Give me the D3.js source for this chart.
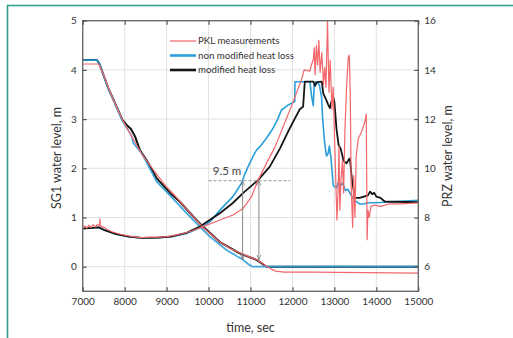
<!DOCTYPE html>
<html><head><meta charset="utf-8">
<script src="https://cdn.jsdelivr.net/npm/d3@7"></script>
<style>
html,body{margin:0;padding:0;background:#fff;}
svg{display:block;font-family:Lato,"Open Sans",sans-serif;}
</style></head>
<body>
<svg id="c" width="513" height="338"></svg>
<script>
// ---- data ----
const xTicks = [7000,8000,9000,10000,11000,12000,13000,14000,15000];
const leftTicks = [0,1,2,3,4,5];
const rightTicks = [6,8,10,12,14,16];
const seriesNames = ["PKL measurements","non modified heat loss","modified heat loss"];

// SG1 water level (left axis, m)  [time, level]
const sg1PKL = [[7000,4.12],[7380,4.12],[7500,3.9],[7700,3.45],[7950,2.98],[8200,2.6],[8400,2.3],[8700,1.95],[9000,1.62],[9300,1.35],[9600,1.05],[9870,0.8],[10000,0.7],[10270,0.5],[10500,0.38],[10750,0.28],[11000,0.19],[11150,0.14],[11300,0.06],[11400,0.0],[11500,-0.05],[11600,-0.09],[11800,-0.11],[12500,-0.11],[15000,-0.13]];
const sg1NonMod = [[7000,4.2],[7340,4.2],[7400,4.12],[7600,3.65],[7936,2.98],[8100,2.75],[8174,2.64],[8200,2.52],[8412,2.3],[8762,1.73],[9079,1.45],[9476,1.09],[9793,0.81],[10031,0.61],[10428,0.34],[10700,0.2],[10824,0.14],[10950,0.05],[11050,0.0],[15000,0.0]];
const sg1Mod = [[7000,4.2],[7340,4.2],[7400,4.12],[7600,3.65],[7950,2.98],[8050,2.88],[8100,2.84],[8150,2.8],[8252,2.64],[8364,2.37],[8571,2.1],[8762,1.8],[9079,1.5],[9317,1.32],[9633,1.02],[9871,0.81],[10270,0.5],[10745,0.27],[11143,0.14],[11300,0.05],[11380,0.0],[15000,0.0]];

// PRZ water level (right axis, m)  [time, level]
const przPKL = [[7000,7.55],[7050,7.66],[7100,7.57],[7150,7.69],[7200,7.6],[7250,7.71],[7300,7.62],[7350,7.72],[7400,7.65],[7410,7.95],[7420,7.66],[7500,7.6],[7600,7.5],[7700,7.42],[7800,7.37],[7900,7.32],[8000,7.28],[8200,7.22],[8400,7.18],[8600,7.2],[8800,7.2],[9000,7.22],[9200,7.28],[9400,7.35],[9600,7.45],[9870,7.63],[10269,7.9],[10580,8.1],[10824,8.37],[11024,8.85],[11181,9.52],[11380,10.2],[11580,10.85],[11780,11.7],[12016,12.7],[12215,13.6],[12280,14.0],[12415,13.95],[12450,14.2],[12496,14.4],[12520,14.9],[12540,13.8],[12570,15.0],[12600,14.2],[12630,15.2],[12660,13.9],[12700,14.7],[12740,13.4],[12770,14.1],[12800,13.3],[12836,16.0],[12870,13.1],[12900,14.4],[12940,12.4],[12970,13.3],[13010,10.9],[13060,7.9],[13090,9.2],[13110,10.9],[13130,8.3],[13160,9.6],[13190,10.3],[13220,9.0],[13250,11.5],[13290,13.3],[13330,14.5],[13355,14.6],[13380,12.8],[13400,9.3],[13435,7.6],[13460,9.7],[13490,8.0],[13520,10.5],[13570,11.2],[13650,11.5],[13730,11.9],[13760,12.2],[13780,7.1],[13800,8.3],[13830,8.0],[13870,8.45],[13950,8.5],[14100,8.45],[14300,8.55],[14600,8.55],[15000,8.6]];
const przNonMod = [[7000,7.55],[7380,7.6],[7500,7.5],[7800,7.32],[8100,7.22],[8400,7.17],[8800,7.18],[9100,7.22],[9476,7.35],[9870,7.63],[10050,7.85],[10270,8.3],[10580,8.85],[10786,9.39],[10850,9.7],[10943,10.07],[11050,10.45],[11143,10.74],[11224,10.88],[11380,11.22],[11538,11.63],[11650,12.0],[11738,12.37],[11895,12.57],[12055,12.71],[12060,13.52],[12417,13.52],[12450,13.0],[12496,12.55],[12520,13.4],[12560,13.52],[12640,13.4],[12694,12.9],[12720,12.0],[12770,11.0],[12810,10.5],[12850,10.6],[12880,10.9],[12920,10.4],[12972,9.3],[13050,9.2],[13100,9.45],[13150,9.3],[13200,9.4],[13260,9.1],[13320,9.15],[13400,8.9],[13480,8.7],[13600,8.55],[13700,8.55],[13800,8.6],[14000,8.6],[14500,8.65],[15000,8.7]];
const przMod = [[7000,7.55],[7380,7.6],[7500,7.5],[7800,7.32],[8100,7.22],[8400,7.17],[8800,7.18],[9100,7.22],[9476,7.38],[9793,7.63],[10269,8.17],[10580,8.59],[10820,8.99],[11180,9.52],[11460,10.07],[11700,10.8],[11900,11.5],[12050,12.0],[12175,12.4],[12254,12.5],[12294,13.52],[12500,13.52],[12540,13.35],[12580,13.5],[12700,13.52],[12734,13.05],[12813,12.75],[12850,12.6],[12893,12.45],[12935,12.75],[12972,12.9],[13000,12.7],[13050,11.6],[13100,10.95],[13150,10.8],[13220,10.3],[13290,10.2],[13340,10.35],[13370,10.4],[13420,9.5],[13490,8.8],[13600,8.8],[13700,8.85],[13800,8.9],[13850,9.05],[13900,8.95],[13950,9.0],[14000,8.85],[14100,8.8],[14200,8.65],[15000,8.62]];

const refLevel = 9.5;            // PRZ level of dashed line
const refSpan = [10000,11950];
const arrowTimes = [10812,11200];
const arrowBottomSG1 = [0.14,0.14];

// ---- chart ----
const svg = d3.select("#c");
const L=82.7,R=418.3,T=20.7,B=291.3;
const x = d3.scaleLinear([7000,15000],[L,R]);
const yL = d3.scaleLinear([-0.5,5],[B,T]);
const yR = d3.scaleLinear([5,16],[B,T]);

// outer teal frame
svg.append("path").attr("d","M7.5,345 V5.5 H520").attr("fill","none").attr("stroke","#2f9d8d").attr("stroke-width",1.6);

// gridlines
const g = svg.append("g");
g.selectAll(".vg").data(xTicks.slice(1,-1)).join("line")
 .attr("x1",d=>x(d)).attr("x2",d=>x(d)).attr("y1",T).attr("y2",B)
 .attr("stroke","#e2e2e2").attr("stroke-width",1);
g.selectAll(".hg").data(leftTicks.slice(0,-1)).join("line")
 .attr("x1",L).attr("x2",R).attr("y1",d=>yL(d)).attr("y2",d=>yL(d))
 .attr("stroke","#e2e2e2").attr("stroke-width",1);

// lines
const lineL = d3.line().x(d=>x(d[0])).y(d=>yL(d[1]));
const lineR = d3.line().x(d=>x(d[0])).y(d=>yR(d[1]));
const RED="#f2676b", BLUE="#2b9fd9", BLACK="#151515";
const pl = svg.append("g").attr("fill","none").attr("stroke-linejoin","round");
pl.append("path").attr("d",lineR(przNonMod)).attr("stroke",BLUE).attr("stroke-width",1.6);
pl.append("path").attr("d",lineL(sg1Mod)).attr("stroke",BLACK).attr("stroke-width",2);
pl.append("path").attr("d",lineL(sg1NonMod)).attr("stroke",BLUE).attr("stroke-width",1.7).attr("stroke-opacity",0.9);
pl.append("path").attr("d",lineR(przMod)).attr("stroke",BLACK).attr("stroke-width",1.8);
pl.append("path").attr("d",lineL(sg1PKL)).attr("stroke",RED).attr("stroke-width",1.2);
pl.append("path").attr("d",lineR(przPKL)).attr("stroke",RED).attr("stroke-width",1.2);

// annotation
svg.append("line").attr("x1",x(refSpan[0])).attr("x2",x(refSpan[1]))
 .attr("y1",yR(refLevel)).attr("y2",yR(refLevel))
 .attr("stroke","#aaa").attr("stroke-width",1.2).attr("stroke-dasharray","3,2");
svg.append("defs").append("marker").attr("id","ah").attr("viewBox","0 0 10 10")
 .attr("refX",10).attr("refY",5).attr("markerWidth",5).attr("markerHeight",7)
 .attr("orient","auto-start-reverse").append("path").attr("d","M0,1 L10,5 L0,9").attr("fill","none").attr("stroke","#777").attr("stroke-width",1.5);
arrowTimes.forEach((t,i)=>{
  svg.append("line").attr("x1",x(t)).attr("x2",x(t))
   .attr("y1",yR(refLevel)).attr("y2",yL(arrowBottomSG1[i]))
   .attr("stroke","#888").attr("stroke-width",1)
   .attr("marker-start","url(#ah)").attr("marker-end","url(#ah)");
});
svg.append("text").attr("x",227).attr("y",yR(refLevel)-6).attr("text-anchor","middle")
 .attr("font-size",11.5).attr("fill","#444").text("9.5 m");

// frame
svg.append("rect").attr("x",L).attr("y",T).attr("width",R-L).attr("height",B-T)
 .attr("fill","none").attr("stroke","#6a6a6a").attr("stroke-width",1.4);

// axes
function styleAxis(sel){
  sel.select(".domain").remove();
  sel.selectAll(".tick line").attr("stroke","#555").attr("stroke-width",1.2);
  sel.selectAll("text").attr("fill","#333").attr("font-size",10).attr("font-family","Lato,'Open Sans',sans-serif");
}
svg.append("g").attr("transform",`translate(0,${B})`)
 .call(d3.axisBottom(x).tickValues(xTicks).tickFormat(d3.format("d")).tickSize(-4).tickPadding(7)).call(styleAxis);
svg.append("g").attr("transform",`translate(0,${T})`)
 .call(d3.axisTop(x).tickValues(xTicks).tickFormat("").tickSize(-4)).call(styleAxis);
svg.append("g").attr("transform",`translate(${L},0)`)
 .call(d3.axisLeft(yL).tickValues(leftTicks).tickFormat(d3.format("d")).tickSize(-4).tickPadding(6)).call(styleAxis);
svg.append("g").attr("transform",`translate(${R},0)`)
 .call(d3.axisRight(yR).tickValues(rightTicks).tickFormat(d3.format("d")).tickSize(-4).tickPadding(6)).call(styleAxis);

// titles
svg.append("text").attr("x",(L+R)/2).attr("y",332).attr("text-anchor","middle")
 .attr("font-size",12.5).attr("fill","#333").text("time, sec");
svg.append("text").attr("transform",`translate(61,158) rotate(-90)`).attr("text-anchor","middle")
 .attr("font-size",12.5).attr("fill","#333").text("SG1 water level, m");
svg.append("text").attr("transform",`translate(452,156) rotate(-90)`).attr("text-anchor","middle")
 .attr("font-size",12.5).attr("fill","#333").text("PRZ water level, m");

// legend
const legColors=[RED,BLUE,BLACK], legW=[1.2,2.6,2.6];
const lg = svg.append("g");
seriesNames.forEach((n,i)=>{
  const yy = 41 + i*14.5;
  lg.append("line").attr("x1",170).attr("x2",196).attr("y1",yy).attr("y2",yy)
   .attr("stroke",legColors[i]).attr("stroke-width",legW[i]);
  lg.append("text").attr("x",198).attr("y",yy+3.3).attr("font-size",9.7).attr("fill","#333").text(n);
});
</script>
</body></html>
